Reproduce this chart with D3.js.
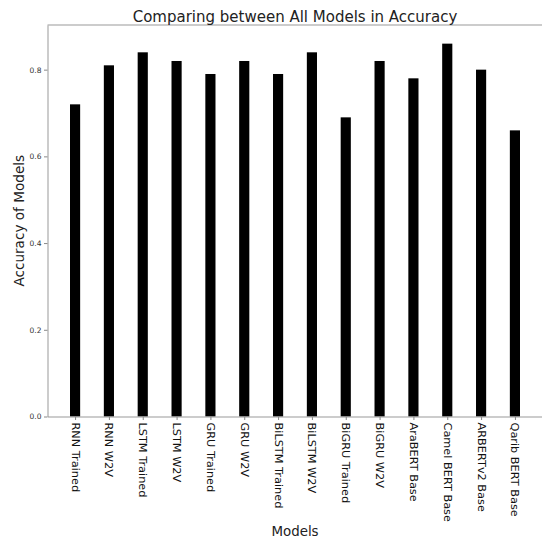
<!DOCTYPE html>
<html lang="en">
<head>
    <meta charset="UTF-8">
    <title>Comparing between All Models in Accuracy</title>
    <script src="https://d3js.org/d3.v7.min.js"></script>
    <style>
        body { margin: 0; background: #fff; }
        svg { font-family: "DejaVu Sans", sans-serif; }
    </style>
</head>
<body>
    <svg id="chart"></svg>
    <script>
        // Data
        var models = ["RNN Trained", "RNN W2V", "LSTM Trained", "LSTM W2V", "GRU Trained", "GRU W2V",
            "BiLSTM Trained", "BiLSTM W2V", "BiGRU Trained", "BiGRU W2V", "AraBERT Base",
            "Camel BERT Base", "ARBERTv2 Base", "Qarib BERT Base"];
        var accuracy = [0.72, 0.81, 0.84, 0.82, 0.79, 0.82, 0.79, 0.84, 0.69, 0.82, 0.78, 0.86, 0.80, 0.66];
        var yTicks = [0.0, 0.2, 0.4, 0.6, 0.8];

        var W = 542, H = 538;
        var plotLeft = 47.5, plotRight = 542.5, plotTop = 25, plotBottom = 416.5;

        var svg = d3.select("#chart").attr("width", W).attr("height", H);

        // matplotlib-like x range: index positions with margins around 0.3-wide bars
        var x = d3.scaleLinear()
            .domain([-0.815, models.length - 1 + 0.815])
            .range([plotLeft, plotRight]);
        var barW = x(0.3) - x(0);

        var y = d3.scaleLinear()
            .domain([0, d3.max(accuracy) * 1.05])
            .range([plotBottom, plotTop]);

        // bars
        svg.selectAll(".bar")
            .data(accuracy)
            .enter().append("rect")
            .attr("class", "bar")
            .attr("x", (d, i) => x(i) - barW / 2)
            .attr("y", d => y(d))
            .attr("width", barW)
            .attr("height", d => plotBottom - y(d))
            .attr("fill", "#000");

        // y axis
        var yAxis = svg.append("g")
            .attr("transform", "translate(" + plotLeft + ",0)")
            .call(d3.axisLeft(y).tickValues(yTicks).tickFormat(d3.format(".1f")).tickSize(3.5).tickPadding(2.5).tickSizeOuter(0));
        yAxis.selectAll("text").attr("font-size", 7.5).attr("fill", "#333").attr("font-family", "DejaVu Sans");
        yAxis.selectAll("line").attr("stroke", "#888");
        yAxis.select(".domain").attr("stroke", "#999");

        // x axis
        var xAxis = svg.append("g")
            .attr("transform", "translate(0," + plotBottom + ")")
            .call(d3.axisBottom(x).tickValues(d3.range(models.length)).tickFormat(i => models[i]).tickSize(3.5).tickSizeOuter(0));
        xAxis.selectAll("line").attr("stroke", "#888");
        xAxis.select(".domain").attr("stroke", "#999");
        xAxis.selectAll("text")
            .attr("font-size", 11.3)
            .attr("fill", "#111")
            .attr("font-family", "DejaVu Sans")
            .attr("transform", "rotate(90)")
            .attr("x", 6)
            .attr("y", 0)
            .attr("dy", "0.35em")
            .style("text-anchor", "start");

        // top and right spines
        svg.append("line")
            .attr("x1", plotLeft).attr("x2", plotRight)
            .attr("y1", plotTop).attr("y2", plotTop)
            .attr("stroke", "#999");
        svg.append("line")
            .attr("x1", plotRight).attr("x2", plotRight)
            .attr("y1", plotTop).attr("y2", plotBottom)
            .attr("stroke", "#999");

        // title and labels
        svg.append("text")
            .attr("x", (plotLeft + plotRight) / 2)
            .attr("y", 21.5)
            .attr("text-anchor", "middle")
            .attr("font-size", 15)
            .attr("fill", "#222")
            .text("Comparing between All Models in Accuracy");

        svg.append("text")
            .attr("transform", "translate(23.5," + (plotTop + plotBottom) / 2 + ") rotate(-90)")
            .attr("text-anchor", "middle")
            .attr("font-size", 13.6)
            .attr("fill", "#222")
            .text("Accuracy of Models");

        svg.append("text")
            .attr("x", (plotLeft + plotRight) / 2)
            .attr("y", 535.5)
            .attr("text-anchor", "middle")
            .attr("font-size", 13.4)
            .attr("fill", "#222")
            .text("Models");
    </script>
</body>
</html>
